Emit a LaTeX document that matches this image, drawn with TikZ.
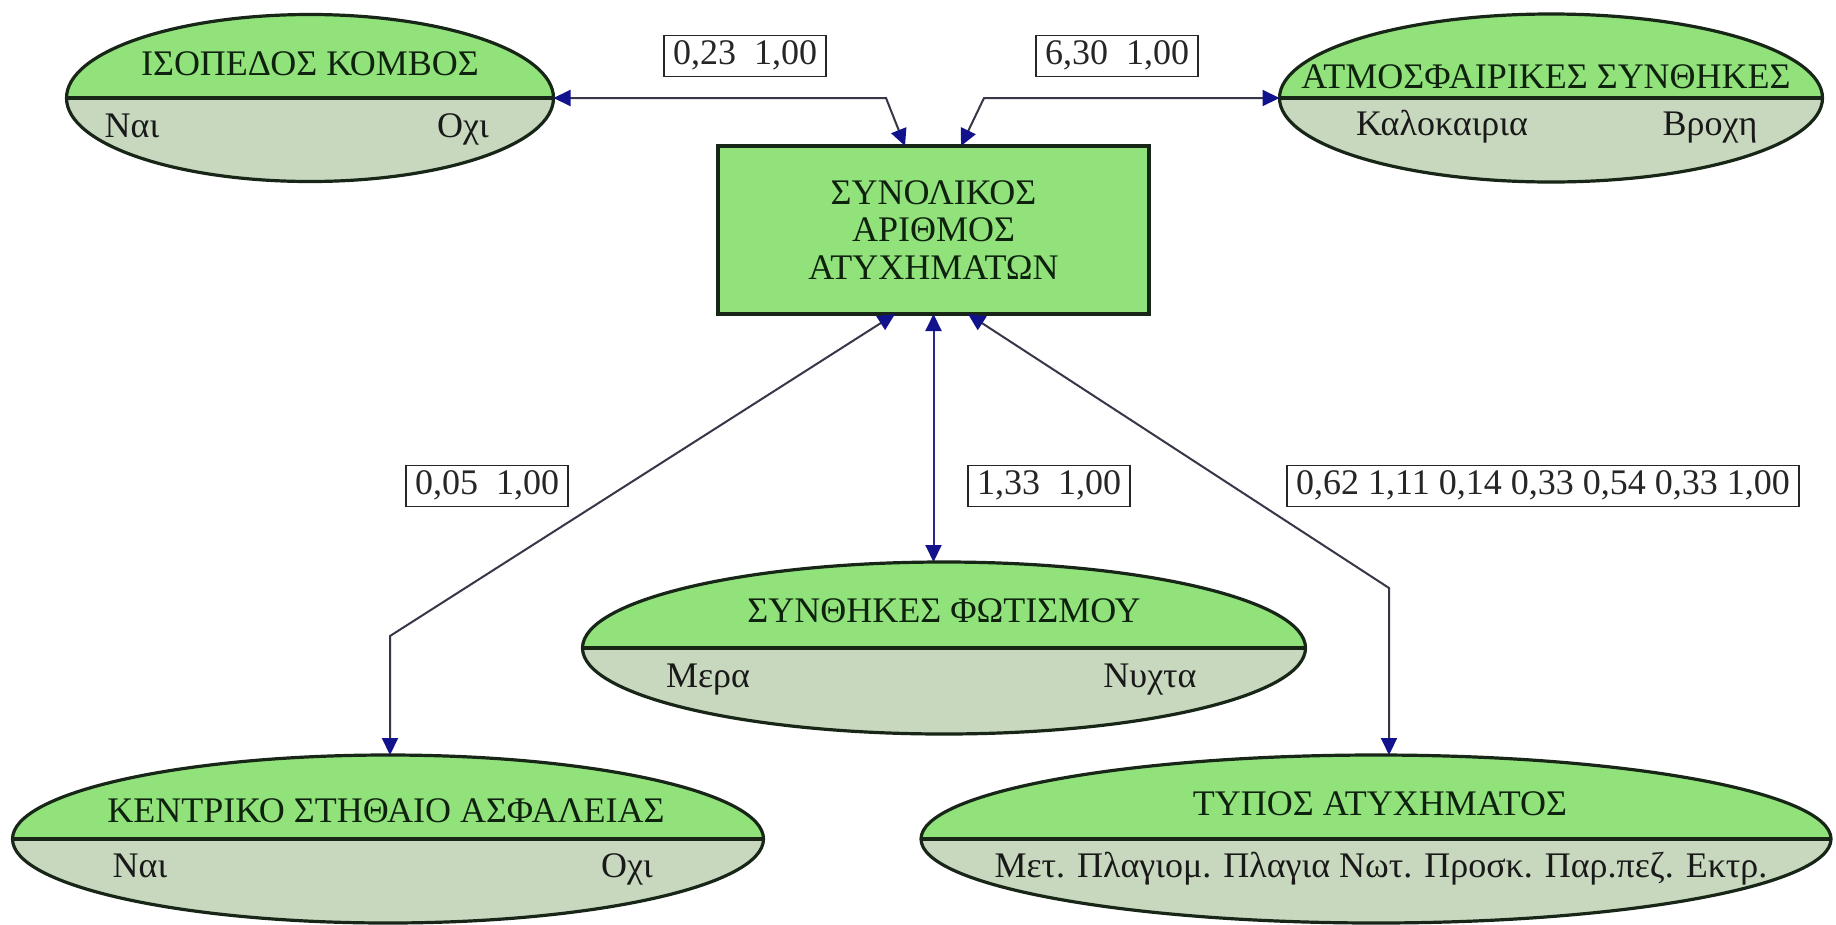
\documentclass[tikz,border=0pt]{standalone}
\usepackage{fontspec}
\setmainfont{Liberation Serif}
\usetikzlibrary{arrows.meta,shapes.geometric,calc}

\definecolor{topgreen}{RGB}{146,226,124}
\definecolor{lowgreen}{RGB}{200,216,190}
\definecolor{edge}{RGB}{24,38,24}
\definecolor{ink}{RGB}{14,34,14}
\definecolor{wire}{RGB}{55,55,72}
\definecolor{tipblue}{RGB}{18,18,140}
\definecolor{bluewire}{RGB}{40,40,140}

\begin{document}
\begin{tikzpicture}[x=1pt,y=-1pt,
  every node/.style={font=\fontsize{36}{37.5}\selectfont, text=ink},
  varnode/.style={ellipse, draw=edge, line width=3.2pt, fill=topgreen,
    inner sep=0pt, outer sep=0pt,
    path picture={
      \fill[lowgreen] (path picture bounding box.west) rectangle (path picture bounding box.south east);
      \draw[edge, line width=3.2pt] (path picture bounding box.west) -- (path picture bounding box.east);}},
  title/.style={anchor=base, inner sep=0pt},
  value/.style={anchor=base, inner sep=0pt, text=black!90},
  target/.style={rectangle, draw=edge, line width=3.5pt, fill=topgreen,
    minimum width=431pt, minimum height=168pt, align=center, outer sep=0pt},
  coef/.style={rectangle, draw=black!85, line width=1.8pt, fill=white,
    inner xsep=9pt, inner ysep=4pt, text height=25pt, text depth=8pt, text=black!85},
  link/.style={draw=wire, line width=2pt,
    arrows={Triangle[length=17pt,width=16pt,color=tipblue]-Triangle[length=17pt,width=16pt,color=tipblue]}},
]
\fill[white] (0,0) rectangle (1836,924);
\useasboundingbox (0,0) rectangle (1836,924);

% central box
\node[target] (box) at (933.5,230) {ΣΥΝΟΛΙΚΟΣ\\ΑΡΙΘΜΟΣ\\ΑΤΥΧΗΜΑΤΩΝ};

% variable ellipses
\node[varnode, minimum width=487pt, minimum height=167pt] (e1) at (310,98) {};
\node[varnode, minimum width=543pt, minimum height=168pt] (e2) at (1551,98) {};
\node[varnode, minimum width=723pt, minimum height=172pt] (e3) at (944,648) {};
\node[varnode, minimum width=751pt, minimum height=168pt] (e4) at (388,839) {};
\node[varnode, minimum width=910pt, minimum height=168pt] (e5) at (1376,839) {};

% ellipse texts
\node[title] (t1) at (310,75) {ΙΣΟΠΕΔΟΣ ΚΟΜΒΟΣ};
\node[value] (v1a) at (132,137) {Ναι};
\node[value] (v1b) at (463,137) {Οχι};

\node[title] (t2) at (1546,88) {ΑΤΜΟΣΦΑΙΡΙΚΕΣ ΣΥΝΘΗΚΕΣ};
\node[value] (v2a) at (1442,135) {Καλοκαιρια};
\node[value] (v2b) at (1710,135) {Βροχη};

\node[title] (t3) at (944,622) {ΣΥΝΘΗΚΕΣ ΦΩΤΙΣΜΟΥ};
\node[value] (v3a) at (708,687) {Μερα};
\node[value] (v3b) at (1150,687) {Νυχτα};

\node[title] (t4) at (386,822) {ΚΕΝΤΡΙΚΟ ΣΤΗΘΑΙΟ ΑΣΦΑΛΕΙΑΣ};
\node[value] (v4a) at (140,877) {Ναι};
\node[value] (v4b) at (627,877) {Οχι};

\node[title] (t5) at (1380,815) {ΤΥΠΟΣ ΑΤΥΧΗΜΑΤΟΣ};
\node[value] (v5) at (1381,877) {Μετ. Πλαγιομ. Πλαγια Νωτ. Προσκ. Παρ.πεζ. Εκτρ.};

% coefficient labels
\node[coef] (c1) at (745,56) {0,23\ \ 1,00};
\node[coef] (c2) at (1117,56) {6,30\ \ 1,00};
\node[coef] (c3) at (487,486) {0,05\ \ 1,00};
\node[coef] (c4) at (1049,486) {1,33\ \ 1,00};
\node[coef] (c5) at (1543,486) {0,62 1,11 0,14 0,33 0,54 0,33 1,00};

% bends of the connectors
\coordinate (b1) at (886,98);
\coordinate (b2) at (984,98);
\coordinate (b3) at (390,636);
\coordinate (b4) at (1389,588);

% connectors
\draw[link] (e1.east) -- (b1) -- ([xshift=-28.5pt]box.north);
\draw[link] (e2.west) -- (b2) -- ([xshift=27.5pt]box.north);
\draw[link] ([xshift=-38.5pt]box.south) -- (b3) -- (b3 |- e4.north);
\draw[link, draw=bluewire] (box.south) -- (box.south |- e3.north);
\draw[link] ([xshift=34.5pt]box.south) -- (b4) -- (b4 |- e5.north);
\end{tikzpicture}
\end{document}
